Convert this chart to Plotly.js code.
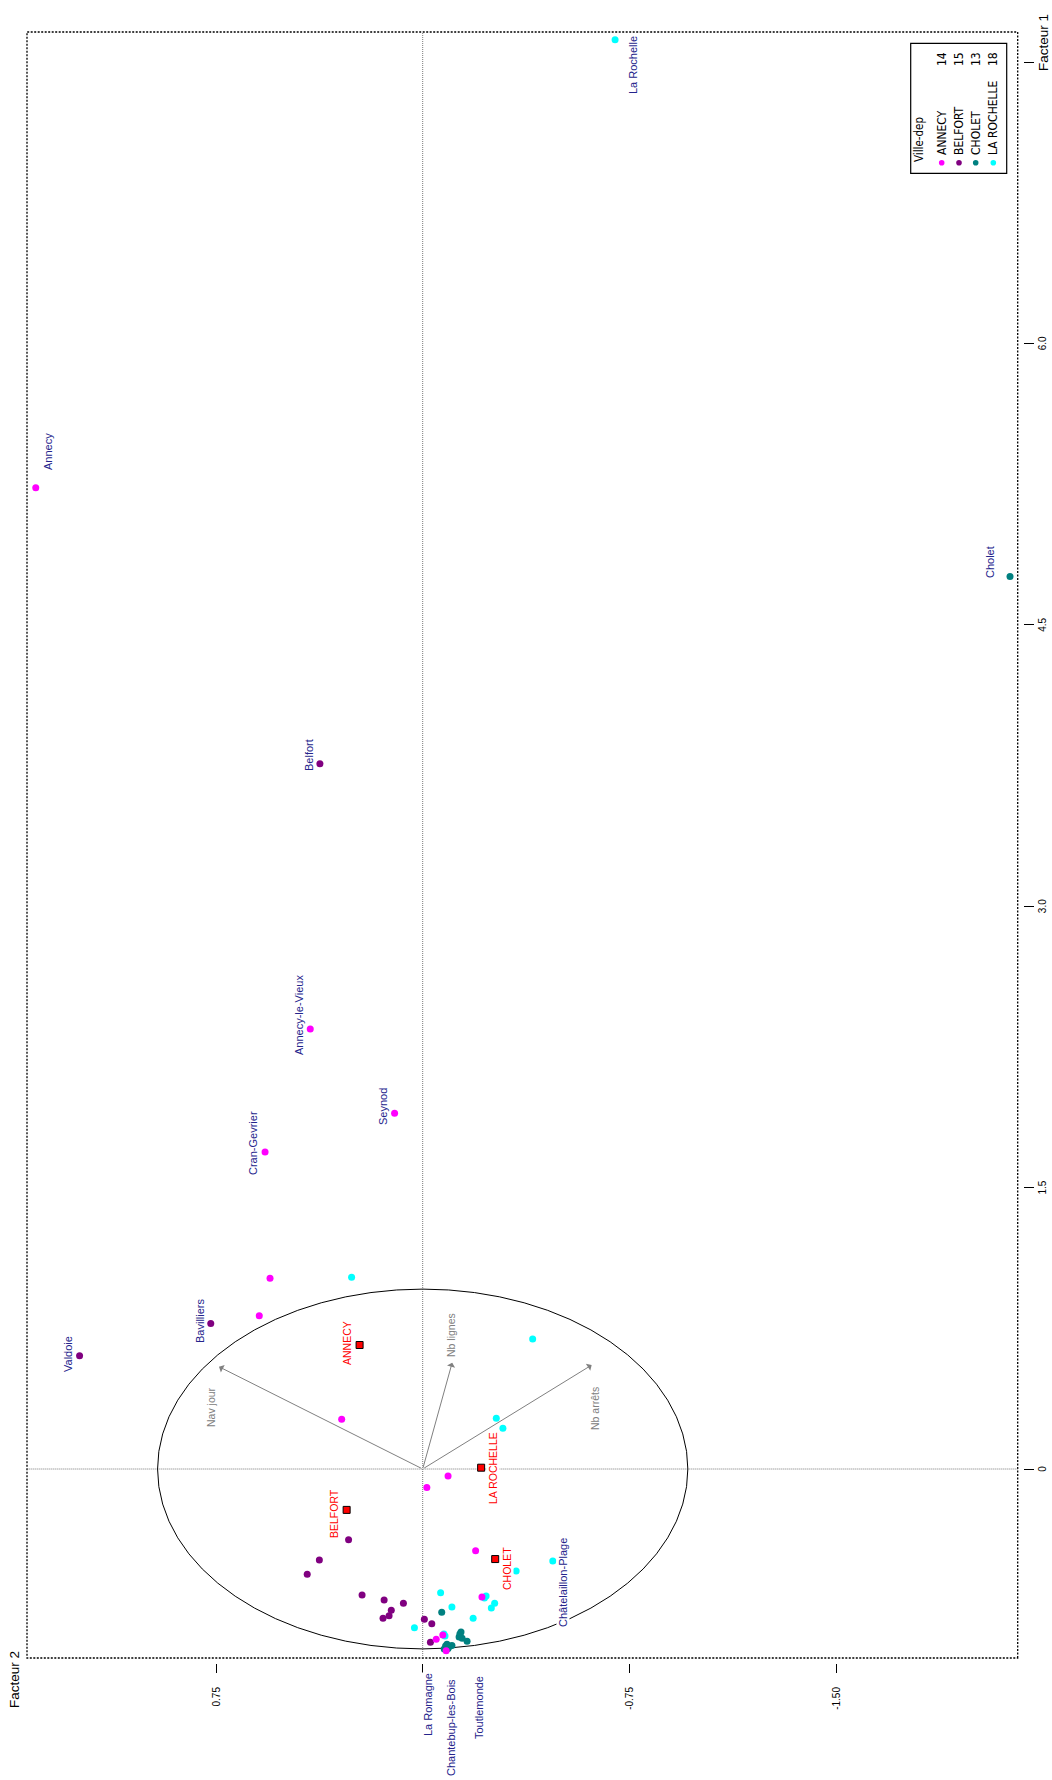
<!DOCTYPE html>
<html><head><meta charset="utf-8">
<script src="https://cdn.plot.ly/plotly-3.0.1.min.js"></script>
<style>
html,body{margin:0;padding:0;width:1052px;height:1780px;overflow:hidden;background:#fff;}
#wrap{position:absolute;left:0;top:0;width:1780px;height:1052px;transform-origin:0 0;transform:translate(0px,1780px) rotate(-90deg);}
#chart{width:1780px;height:1052px;}
</style></head><body><div id="wrap"><div id="chart"></div></div>
<script>
// ---------- data (Facteur 1 = F1, Facteur 2 = F2) ----------
const groups = ['ANNECY', 'BELFORT', 'CHOLET', 'LA ROCHELLE'];
const groupCounts = [14, 15, 13, 18];
const groupColors = ['#ff00ff', '#800080', '#008080', '#00ffff'];

const annecyF1 = [5.231, 2.345, 1.896, 1.690, 1.017, 0.817, 0.265, -0.037, -0.098, -0.436, -0.682, -0.885, -0.908, -0.969];
const annecyF2 = [1.404, 0.408, 0.102, 0.572, 0.554, 0.593, 0.294, -0.092, -0.015, -0.192, -0.215, -0.073, -0.049, -0.085];
const annecyNames = ['Annecy', 'Annecy-le-Vieux', 'Seynod', 'Cran-Gevrier', '', '', '', '', '', '', '', '', '', ''];

const belfortF1 = [3.760, 0.775, 0.604, -0.377, -0.485, -0.561, -0.672, -0.698, -0.716, -0.753, -0.782, -0.796, -0.801, -0.825, -0.924];
const belfortF2 = [0.373, 0.769, 1.245, 0.269, 0.375, 0.419, 0.220, 0.140, 0.070, 0.114, 0.122, 0.144, -0.006, -0.033, -0.028];
const belfortNames = ['Belfort', 'Bavilliers', 'Valdoie', '', '', '', '', '', '', '', '', '', '', '', ''];

const choletF1 = [4.757, -0.764, -0.869, -0.896, -0.902, -0.918, -0.934, -0.945, -0.959, -0.941, -0.944, -0.880, -0.957];
const choletF2 = [-2.131, -0.069, -0.139, -0.132, -0.143, -0.161, -0.088, -0.098, -0.078, -0.106, -0.083, -0.135, -0.092];
const choletNames = ['Cholet', '', '', '', '', '', '', '', '', '', '', '', ''];

const rochelleF1 = [7.619, 1.022, 0.693, 0.270, 0.217, -0.544, -0.490, -0.659, -0.736, -0.796, -0.688, -0.716, -0.741, -0.846, -0.890, -0.959, -0.677, -0.879];
const rochelleF2 = [-0.698, 0.258, -0.399, -0.267, -0.291, -0.339, -0.472, -0.065, -0.106, -0.183, -0.224, -0.261, -0.249, 0.030, -0.081, -0.088, -0.230, -0.077];
const rochelleNames = ['La Rochelle', '', '', '', '', '', 'Châtelaillon-Plage', '', '', '', '', '', '', '', '', '', '', ''];

const centroidF1 = [0.661, -0.218, -0.480, 0.007];
const centroidF2 = [0.229, 0.276, -0.263, -0.212];

const varNames = ['Nav jour', 'Nb lignes', 'Nb arrêts'];
const varF1 = [0.545, 0.567, 0.554];
const varF2 = [0.739, -0.107, -0.613];

const marginNames = ['La Romagne', 'Chantebup-les-Bois', 'Toutlemonde'];
const marginF2 = [-0.020, -0.102, -0.204];

const f1Ticks = [0, 1.5, 3, 4.5, 6, 7.5];
const f1TickText = ['0', '1.5', '3.0', '4.5', '6.0', ''];
const f2Ticks = [0.75, 0, -0.75, -1.5];
const f2TickText = ['0.75', '', '-0.75', '-1.50'];

// ---------- label placement (pixel shifts, kept apart from data) ----------
const pointLabelShift = {
  'Annecy': [36.5, -12.6], 'Annecy-le-Vieux': [14, 11], 'Seynod': [6.6, 11.7], 'Cran-Gevrier': [8.7, 11.7],
  'Belfort': [9, 11], 'Valdoie': [1.4, 11.4], 'Bavilliers': [3, 10.7],
  'La Rochelle': [-25.5, -18], 'Cholet': [14.5, 20.5], 'Châtelaillon-Plage': [-21.5, -10.6]
};
const groupLabelShift = [[1.7, 12.4], [-4, 12.4], [-9, -11.4], [0, -11.7]];
const varLabelShift = [[-40, 8.3], [28, 1.3], [-43, -3.6]];
const marginLabelX = [-0.0053, -0.0092, -0.0073];

const SANS = 'Liberation Sans, Arial, Helvetica, sans-serif';
const NARROW = '"Liberation Sans Narrow", "DejaVu Sans Condensed", "Arial Narrow", sans-serif';
const LABEL_BLUE = '#24248c';

const sets = [
  {f1: rochelleF1, f2: rochelleF2, names: rochelleNames, g: 3},
  {f1: choletF1, f2: choletF2, names: choletNames, g: 2},
  {f1: belfortF1, f2: belfortF2, names: belfortNames, g: 1},
  {f1: annecyF1, f2: annecyF2, names: annecyNames, g: 0}
];

const traces = sets.map(s => ({
  type: 'scatter', mode: 'markers', x: s.f1, y: s.f2, name: groups[s.g],
  marker: {size: 7, color: groupColors[s.g], line: {width: 0}},
  hoverinfo: 'skip', cliponaxis: false
}));
traces.push({
  type: 'scatter', mode: 'markers', x: centroidF1, y: centroidF2, name: 'centres',
  marker: {symbol: 'square', size: 7, color: '#ff0000', line: {width: 1, color: '#000'}},
  hoverinfo: 'skip'
});

const annotations = [];
sets.forEach(s => {
  s.names.forEach((n, i) => {
    if (!n) return;
    const sh = pointLabelShift[n] || [0, 11];
    annotations.push({x: s.f1[i], y: s.f2[i], xref: 'x', yref: 'y', text: n, showarrow: false,
      xshift: sh[0], yshift: sh[1], xanchor: 'center', yanchor: 'middle',
      bgcolor: '#ffffff', borderpad: 0, font: {family: SANS, size: 11, color: LABEL_BLUE}});
  });
});
groups.forEach((g, i) => {
  annotations.push({x: centroidF1[i], y: centroidF2[i], xref: 'x', yref: 'y', text: g, showarrow: false,
    xshift: groupLabelShift[i][0], yshift: groupLabelShift[i][1], xanchor: 'center', yanchor: 'middle',
    bgcolor: '#ffffff', borderpad: 0, font: {family: SANS, size: 10.5, color: '#ff0000'}});
});
varNames.forEach((v, i) => {
  annotations.push({x: varF1[i], y: varF2[i], xref: 'x', yref: 'y', ax: 0, ay: 0, axref: 'x', ayref: 'y',
    text: '', showarrow: true, arrowhead: 1, arrowsize: 1.4, arrowwidth: 1, arrowcolor: '#808080'});
  annotations.push({x: varF1[i], y: varF2[i], xref: 'x', yref: 'y', text: v, showarrow: false,
    xshift: varLabelShift[i][0], yshift: varLabelShift[i][1], xanchor: 'center', yanchor: 'middle',
    bgcolor: '#ffffff', borderpad: 0, font: {family: SANS, size: 10.5, color: '#808080'}});
});
marginNames.forEach((n, i) => {
  annotations.push({x: marginLabelX[i], y: marginF2[i], xref: 'paper', yref: 'y', text: n, showarrow: false,
    xanchor: 'right', yanchor: 'middle', bgcolor: '#ffffff', borderpad: 0,
    font: {family: SANS, size: 11, color: LABEL_BLUE}});
});
// axis titles
annotations.push({x: -0.0287, y: 1.007, xref: 'paper', yref: 'paper', text: 'Facteur 2', showarrow: false,
  xanchor: 'left', yanchor: 'middle', font: {family: SANS, size: 13.5, color: '#000'}});
annotations.push({x: 0.9908, y: -0.020, xref: 'paper', yref: 'paper', text: 'Facteur 1', showarrow: false,
  xanchor: 'center', yanchor: 'middle', bgcolor: '#ffffff', font: {family: SANS, size: 13.5, color: '#000'}});

// legend (drawn by hand, rotated with the chart)
const legX0 = 0.91057, legX1 = 0.99004, legY0 = 0.01628, legY1 = 0.11219;
const legRowY = [0.08122, 0.06394, 0.04725, 0.02967];
annotations.push({x: 0.9163, y: 0.1036, xref: 'paper', yref: 'paper', text: 'Ville-dep', showarrow: false,
  xanchor: 'left', yanchor: 'middle', font: {family: NARROW, size: 11.5, color: '#000'}});
const shapes = [];
groups.forEach((g, i) => {
  annotations.push({x: 0.92073, y: legRowY[i], xref: 'paper', yref: 'paper', text: g, showarrow: false,
    xanchor: 'left', yanchor: 'middle', font: {family: NARROW, size: 12, color: '#000'}});
  annotations.push({x: 0.98594, y: legRowY[i], xref: 'paper', yref: 'paper', text: String(groupCounts[i]), showarrow: false,
    xanchor: 'right', yanchor: 'middle', font: {family: NARROW, size: 12, color: '#000'}});
  shapes.push({type: 'circle', xref: 'paper', yref: 'paper', xsizemode: 'pixel', ysizemode: 'pixel',
    xanchor: 0.91706, yanchor: legRowY[i], x0: -2.8, x1: 2.8, y0: -2.8, y1: 2.8,
    fillcolor: groupColors[i], line: {width: 0}, layer: 'above'});
});
shapes.push({type: 'rect', xref: 'paper', yref: 'paper', x0: legX0, x1: legX1, y0: legY0, y1: legY1,
  line: {color: '#000', width: 1.2}, fillcolor: 'rgba(0,0,0,0)', layer: 'above'});

// frame, zero lines, correlation circle
const frX0 = 0.003056, frX1 = 0.996944, frY0 = 0.005295, frY1 = 0.995005;
shapes.push({type: 'rect', xref: 'paper', yref: 'paper', x0: frX0, x1: frX1, y0: frY0, y1: frY1,
  line: {color: '#000', width: 1.3, dash: '2px,1.5px'}, layer: 'below'});
shapes.push({type: 'line', xref: 'x', yref: 'paper', x0: 0, x1: 0, y0: frY0, y1: frY1,
  line: {color: '#555', width: 0.8, dash: '1px,1px'}, layer: 'below'});
shapes.push({type: 'line', xref: 'paper', yref: 'y', x0: frX0, x1: frX1, y0: 0, y1: 0,
  line: {color: '#555', width: 0.8, dash: '1px,1px'}, layer: 'below'});
shapes.push({type: 'circle', xref: 'x', yref: 'y', x0: -0.959, x1: 0.959, y0: -0.962, y1: 0.962,
  line: {color: '#000', width: 1}, layer: 'below'});

const layout = {
  width: 1780, height: 1052,
  margin: {l: 117, r: 27, t: 22, b: 29, pad: 0},
  paper_bgcolor: '#ffffff', plot_bgcolor: '#ffffff',
  showlegend: false,
  font: {family: SANS},
  xaxis: {range: [-1.0341, 7.6866], tickmode: 'array', tickvals: f1Ticks, ticktext: f1TickText,
    ticks: 'outside', ticklen: 10, tickwidth: 1, tickcolor: '#000', showgrid: false, zeroline: false,
    showline: false, ticklabelstandoff: 0, tickfont: {family: SANS, size: 10, color: '#000'}, fixedrange: true},
  yaxis: {range: [-2.1781, 1.4539], tickmode: 'array', tickvals: f2Ticks, ticktext: f2TickText,
    ticks: 'outside', ticklen: 9, tickwidth: 1, tickcolor: '#000', showgrid: false, zeroline: false,
    showline: false, ticklabelstandoff: 12, tickfont: {family: SANS, size: 10, color: '#000'}, fixedrange: true},
  shapes: shapes,
  annotations: annotations
};

Plotly.newPlot('chart', traces, layout, {staticPlot: true, displayModeBar: false});
</script></body></html>
